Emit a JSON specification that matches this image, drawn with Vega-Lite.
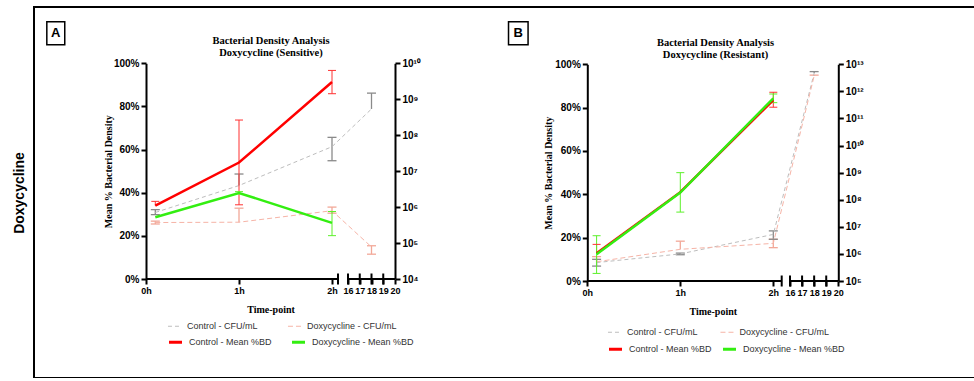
{
 "$schema": "https://vega.github.io/schema/vega-lite/v6.json",
 "width": 945, "height": 371,
 "autosize": {"type": "none"},
 "padding": {"left": 34, "top": 7, "right": 0, "bottom": 0},
 "background": "white",
 "config": {
  "view": {"stroke": "#000", "strokeWidth": 2},
  "axis": {"grid": false, "labelFont": "Liberation Sans", "labelFontWeight": "bold", "labelFontSize": 10, "labelColor": "#000", "domainColor": "#000", "domainWidth": 2, "tickColor": "#000", "tickWidth": 2, "tickSize": 5, "titleFont": "Liberation Serif", "titleFontWeight": "bold", "titleFontSize": 10, "titleColor": "#000", "labelPadding": 2},
  "legend": {"title": null, "orient": "none", "direction": "horizontal", "columns": 2, "symbolType": "stroke", "symbolSize": 170, "labelFont": "Liberation Sans", "labelFontSize": 9, "labelColor": "#333", "labelOffset": 5, "rowPadding": 2}
 },
 "datasets": {
  "A": [
   {"series":"Control - Mean %BD","metric":"BD","t":0.1,"v":0.34,"lo":0.34,"hi":0.36},
   {"series":"Control - Mean %BD","metric":"BD","t":1,"v":0.54,"lo":0.344,"hi":0.737},
   {"series":"Control - Mean %BD","metric":"BD","t":2,"v":0.913,"lo":0.859,"hi":0.967},
   {"series":"Doxycycline - Mean %BD","metric":"BD","t":0.1,"v":0.286,"lo":0.286,"hi":0.286},
   {"series":"Doxycycline - Mean %BD","metric":"BD","t":1,"v":0.399,"lo":0.399,"hi":0.405},
   {"series":"Doxycycline - Mean %BD","metric":"BD","t":2,"v":0.26,"lo":0.201,"hi":0.313},
   {"series":"Control - CFU/mL","metric":"CFU","t":0.1,"v":708000,"lo":617000,"hi":851000},
   {"series":"Control - CFU/mL","metric":"CFU","t":1,"v":3980000,"lo":3980000,"hi":8320000},
   {"series":"Control - CFU/mL","metric":"CFU","t":2,"v":47900000,"lo":19500000,"hi":87100000},
   {"series":"Control - CFU/mL","metric":"CFU","t":18,"v":537000000,"lo":537000000,"hi":1480000000},
   {"series":"Doxycycline - CFU/mL","metric":"CFU","t":0.1,"v":372000,"lo":339000,"hi":407000},
   {"series":"Doxycycline - CFU/mL","metric":"CFU","t":1,"v":380000,"lo":380000,"hi":933000},
   {"series":"Doxycycline - CFU/mL","metric":"CFU","t":2,"v":794000,"lo":676000,"hi":1000000},
   {"series":"Doxycycline - CFU/mL","metric":"CFU","t":18,"v":77600,"lo":49000,"hi":84100}
  ],
  "B": [
   {"series":"Control - Mean %BD","metric":"BD","t":0.1,"v":0.128,"lo":0.128,"hi":0.169},
   {"series":"Control - Mean %BD","metric":"BD","t":1,"v":0.41,"lo":0.41,"hi":0.41},
   {"series":"Control - Mean %BD","metric":"BD","t":2,"v":0.835,"lo":0.802,"hi":0.871},
   {"series":"Doxycycline - Mean %BD","metric":"BD","t":0.1,"v":0.123,"lo":0.035,"hi":0.209},
   {"series":"Doxycycline - Mean %BD","metric":"BD","t":1,"v":0.408,"lo":0.318,"hi":0.5},
   {"series":"Doxycycline - Mean %BD","metric":"BD","t":2,"v":0.843,"lo":0.823,"hi":0.863},
   {"series":"Control - CFU/mL","metric":"CFU","t":0.1,"v":479000,"lo":355000,"hi":631000},
   {"series":"Control - CFU/mL","metric":"CFU","t":1,"v":1000000,"lo":933000,"hi":1070000},
   {"series":"Control - CFU/mL","metric":"CFU","t":2,"v":5250000,"lo":3470000,"hi":7080000},
   {"series":"Control - CFU/mL","metric":"CFU","t":18,"v":4680000000000,"lo":4680000000000,"hi":5370000000000},
   {"series":"Doxycycline - CFU/mL","metric":"CFU","t":0.1,"v":513000,"lo":513000,"hi":794000},
   {"series":"Doxycycline - CFU/mL","metric":"CFU","t":1,"v":1480000,"lo":1480000,"hi":2950000},
   {"series":"Doxycycline - CFU/mL","metric":"CFU","t":2,"v":2450000,"lo":1700000,"hi":3470000},
   {"series":"Doxycycline - CFU/mL","metric":"CFU","t":18,"v":3720000000000,"lo":3720000000000,"hi":3980000000000}
  ]
 },
 "layer": [
  {
   "data": {"values": [{"k": 0}]},
   "mark": {"type": "point", "opacity": 0},
   "encoding": {"y": {"field": "k", "type": "quantitative", "axis": {"orient": "left", "offset": 0, "domain": false, "ticks": false, "labels": false, "title": "Doxycycline", "titleFont": "Liberation Sans", "titleFontSize": 14, "titleFontWeight": "bold", "titlePadding": 8}}}
  },
  {
   "data": {"values": [{"k": 0}]},
   "mark": {"type": "point", "opacity": 0},
   "encoding": {"x": {"field": "k", "type": "quantitative", "scale": {"domain": [0, 1], "range": [112, 361]}, "axis": {"orient": "top", "offset": -50.5, "domain": false, "ticks": false, "labels": false, "title": ["Bacterial Density Analysis", "Doxycycline (Sensitive)"], "titleFontSize": 10.5, "titleLineHeight": 12, "titlePadding": 0}}}
  },
  {
   "data": {"values": [{"k": 0}]},
   "mark": {"type": "point", "opacity": 0},
   "encoding": {"x": {"field": "k", "type": "quantitative", "scale": {"domain": [0, 1], "range": [556, 806]}, "axis": {"orient": "top", "offset": -52.5, "domain": false, "ticks": false, "labels": false, "title": ["Bacterial Density Analysis", "Doxycycline (Resistant)"], "titleFontSize": 10.5, "titleLineHeight": 12, "titlePadding": 0}}}
  },

  {"data": {"name": "A"}, "transform": [{"filter": {"field": "metric", "equal": "CFU"}}, {"filter": "datum.hi > datum.lo"}],
   "mark": {"type": "rule", "strokeWidth": 1.3},
   "encoding": {"x": {"field": "t", "type": "quantitative", "scale": {"domain": [0, 2, 2.2, 16, 20], "range": [112, 298, 304, 314, 361], "nice": false, "zero": false}, "axis": null},
    "y": {"field": "lo", "type": "quantitative", "scale": {"type": "log", "domain": [10000, 10000000000], "range": [272, 56.3], "nice": false}, "axis": null}, "y2": {"field": "hi"},
    "stroke": {"field": "series", "type": "nominal", "scale": {"domain": ["Control - CFU/mL", "Doxycycline - CFU/mL"], "range": ["#8a8a8a", "#f2a898"]}, "legend": null}}},
  {"data": {"name": "A"}, "transform": [{"filter": {"field": "metric", "equal": "CFU"}}, {"filter": "datum.hi > datum.v"}],
   "mark": {"type": "tick", "orient": "horizontal", "size": 9, "thickness": 1.3, "opacity": 1},
   "encoding": {"x": {"field": "t", "type": "quantitative", "scale": {"domain": [0, 2, 2.2, 16, 20], "range": [112, 298, 304, 314, 361], "nice": false, "zero": false}, "axis": null},
    "y": {"field": "hi", "type": "quantitative", "scale": {"type": "log", "domain": [10000, 10000000000], "range": [272, 56.3], "nice": false}, "axis": null},
    "fill": {"field": "series", "type": "nominal", "scale": {"domain": ["Control - CFU/mL", "Doxycycline - CFU/mL"], "range": ["#8a8a8a", "#f2a898"]}, "legend": null}}},
  {"data": {"name": "A"}, "transform": [{"filter": {"field": "metric", "equal": "CFU"}}, {"filter": "datum.lo < datum.v"}],
   "mark": {"type": "tick", "orient": "horizontal", "size": 9, "thickness": 1.3, "opacity": 1},
   "encoding": {"x": {"field": "t", "type": "quantitative", "scale": {"domain": [0, 2, 2.2, 16, 20], "range": [112, 298, 304, 314, 361], "nice": false, "zero": false}, "axis": null},
    "y": {"field": "lo", "type": "quantitative", "scale": {"type": "log", "domain": [10000, 10000000000], "range": [272, 56.3], "nice": false}, "axis": null},
    "fill": {"field": "series", "type": "nominal", "scale": {"domain": ["Control - CFU/mL", "Doxycycline - CFU/mL"], "range": ["#8a8a8a", "#f2a898"]}, "legend": null}}},
  {"data": {"name": "A"}, "transform": [{"filter": {"field": "metric", "equal": "CFU"}}],
   "mark": {"type": "line", "strokeWidth": 1},
   "encoding": {"x": {"field": "t", "type": "quantitative", "scale": {"domain": [0, 2, 2.2, 16, 20], "range": [112, 298, 304, 314, 361], "nice": false, "zero": false}, "axis": null},
    "y": {"field": "v", "type": "quantitative", "scale": {"type": "log", "domain": [10000, 10000000000], "range": [272, 56.3], "nice": false}, "axis": {"orient": "right", "offset": -584, "values": [10000, 100000, 1000000, 10000000, 100000000, 1000000000, 10000000000], "labelExpr": "'10' + ['⁰','¹','²','³','⁴','⁵','⁶','⁷','⁸','⁹','¹⁰','¹¹','¹²','¹³'][round(log(datum.value)/LN10)]", "title": null}},
    "color": {"field": "series", "type": "nominal", "scale": {"domain": ["Control - CFU/mL", "Doxycycline - CFU/mL"], "range": ["#bdbdbd", "#f6b4a7"]}, "legend": {"legendX": 133, "legendY": 311.5, "columnPadding": 27, "symbolStrokeWidth": 1}},
    "strokeDash": {"field": "series", "type": "nominal", "scale": {"domain": ["Control - CFU/mL", "Doxycycline - CFU/mL"], "range": [[4, 3], [5, 3]]}, "legend": {"legendX": 133, "legendY": 311.5, "columnPadding": 27, "symbolStrokeWidth": 1}}}},

  {"data": {"name": "A"}, "transform": [{"filter": {"field": "metric", "equal": "BD"}}, {"filter": "datum.hi > datum.lo"}],
   "mark": {"type": "rule", "strokeWidth": 1},
   "encoding": {"x": {"field": "t", "type": "quantitative", "scale": {"domain": [0, 2, 2.2, 16, 20], "range": [112, 298, 304, 314, 361], "nice": false, "zero": false}, "axis": null},
    "y": {"field": "lo", "type": "quantitative", "scale": {"domain": [0, 1], "range": [272, 56.3], "nice": false, "zero": false}, "axis": null}, "y2": {"field": "hi"},
    "stroke": {"field": "series", "type": "nominal", "scale": {"domain": ["Control - Mean %BD", "Doxycycline - Mean %BD"], "range": ["#ff3030", "#5cf02a"]}, "legend": null}}},
  {"data": {"name": "A"}, "transform": [{"filter": {"field": "metric", "equal": "BD"}}, {"filter": "datum.hi > datum.v"}],
   "mark": {"type": "tick", "orient": "horizontal", "size": 8, "thickness": 1, "opacity": 1},
   "encoding": {"x": {"field": "t", "type": "quantitative", "scale": {"domain": [0, 2, 2.2, 16, 20], "range": [112, 298, 304, 314, 361], "nice": false, "zero": false}, "axis": null},
    "y": {"field": "hi", "type": "quantitative", "scale": {"domain": [0, 1], "range": [272, 56.3], "nice": false, "zero": false}, "axis": null},
    "fill": {"field": "series", "type": "nominal", "scale": {"domain": ["Control - Mean %BD", "Doxycycline - Mean %BD"], "range": ["#ff3030", "#5cf02a"]}, "legend": null}}},
  {"data": {"name": "A"}, "transform": [{"filter": {"field": "metric", "equal": "BD"}}, {"filter": "datum.lo < datum.v"}],
   "mark": {"type": "tick", "orient": "horizontal", "size": 8, "thickness": 1, "opacity": 1},
   "encoding": {"x": {"field": "t", "type": "quantitative", "scale": {"domain": [0, 2, 2.2, 16, 20], "range": [112, 298, 304, 314, 361], "nice": false, "zero": false}, "axis": null},
    "y": {"field": "lo", "type": "quantitative", "scale": {"domain": [0, 1], "range": [272, 56.3], "nice": false, "zero": false}, "axis": null},
    "fill": {"field": "series", "type": "nominal", "scale": {"domain": ["Control - Mean %BD", "Doxycycline - Mean %BD"], "range": ["#ff3030", "#5cf02a"]}, "legend": null}}},
  {"data": {"name": "A"}, "transform": [{"filter": {"field": "metric", "equal": "BD"}}],
   "mark": {"type": "line", "strokeWidth": 2.5},
   "encoding": {"x": {"field": "t", "type": "quantitative", "scale": {"domain": [0, 2, 2.2, 16, 20], "range": [112, 298, 304, 314, 361], "nice": false, "zero": false}, "axis": {"orient": "bottom", "offset": -99, "values": [0, 1, 2, 16, 17, 18, 19, 20], "labelExpr": "datum.value <= 2 ? datum.value + 'h' : '' + datum.value", "labelFontSize": 9, "domain": false, "labelOverlap": false, "labelBound": false, "labelFlush": false, "title": "Time-point", "titlePadding": 9}},
    "y": {"field": "v", "type": "quantitative", "scale": {"domain": [0, 1], "range": [272, 56.3], "nice": false, "zero": false}, "axis": {"orient": "left", "offset": -112, "values": [0, 0.2, 0.4, 0.6, 0.8, 1], "format": ".0%", "title": "Mean % Bacterial Density", "titlePadding": 0}},
    "color": {"field": "series", "type": "nominal", "scale": {"domain": ["Control - Mean %BD", "Doxycycline - Mean %BD"], "range": ["#ff0000", "#33ee11"]}, "legend": {"legendX": 133, "legendY": 326.5, "columnPadding": 13, "symbolStrokeWidth": 3}}}},
  {"data": {"values": [{"from": 0, "to": 2.2}, {"from": 16, "to": 20}]},
   "mark": {"type": "rule", "strokeWidth": 2, "color": "#000"},
   "encoding": {"x": {"field": "from", "type": "quantitative", "scale": {"domain": [0, 2, 2.2, 16, 20], "range": [112, 298, 304, 314, 361], "nice": false, "zero": false}, "axis": null}, "x2": {"field": "to"}, "y": {"datum": 0, "type": "quantitative", "scale": {"domain": [0, 1], "range": [272, 56.3], "nice": false, "zero": false}, "axis": null}}},
  {"data": {"values": [{"brk": 2.2}, {"brk": 16}, {"brk": 17}, {"brk": 18}, {"brk": 19}]},
   "mark": {"type": "tick", "orient": "vertical", "size": 11, "thickness": 2, "color": "#000", "opacity": 1},
   "encoding": {"x": {"field": "brk", "type": "quantitative", "scale": {"domain": [0, 2, 2.2, 16, 20], "range": [112, 298, 304, 314, 361], "nice": false, "zero": false}, "axis": null}, "y": {"datum": 0, "type": "quantitative", "scale": {"domain": [0, 1], "range": [272, 56.3], "nice": false, "zero": false}, "axis": null}}},
  {"data": {"values": [{"lab": "A"}]},
   "mark": {"type": "point", "shape": "M-0.78,-1L0.78,-1L0.78,1L-0.78,1Z", "size": 529, "filled": false, "stroke": "#000", "strokeWidth": 1.5, "opacity": 1},
   "encoding": {"x": {"datum": -0.97, "type": "quantitative", "scale": {"domain": [0, 2, 2.2, 16, 20], "range": [112, 298, 304, 314, 361], "nice": false, "zero": false}, "axis": null}, "y": {"datum": 1.139, "type": "quantitative", "scale": {"domain": [0, 1], "range": [272, 56.3], "nice": false, "zero": false}, "axis": null}}},
  {"data": {"values": [{"lab": "A"}]},
   "mark": {"type": "text", "font": "Liberation Sans", "fontWeight": "bold", "fontSize": 13, "color": "#000", "align": "center", "baseline": "middle"},
   "encoding": {"x": {"datum": -0.97, "type": "quantitative", "scale": {"domain": [0, 2, 2.2, 16, 20], "range": [112, 298, 304, 314, 361], "nice": false, "zero": false}, "axis": null}, "y": {"datum": 1.139, "type": "quantitative", "scale": {"domain": [0, 1], "range": [272, 56.3], "nice": false, "zero": false}, "axis": null}, "text": {"field": "lab"}}},

  {"data": {"name": "B"}, "transform": [{"filter": {"field": "metric", "equal": "CFU"}}, {"filter": "datum.hi > datum.lo"}],
   "mark": {"type": "rule", "strokeWidth": 1.3},
   "encoding": {"x": {"field": "t", "type": "quantitative", "scale": {"domain": [0, 2, 2.2, 16, 20], "range": [553.3, 739.3, 747.7, 756, 804.3], "nice": false, "zero": false}, "axis": null},
    "y": {"field": "lo", "type": "quantitative", "scale": {"type": "log", "domain": [100000, 10000000000000], "range": [274, 57.3], "nice": false}, "axis": null}, "y2": {"field": "hi"},
    "stroke": {"field": "series", "type": "nominal", "scale": {"domain": ["Control - CFU/mL", "Doxycycline - CFU/mL"], "range": ["#8a8a8a", "#f2a898"]}, "legend": null}}},
  {"data": {"name": "B"}, "transform": [{"filter": {"field": "metric", "equal": "CFU"}}, {"filter": "datum.hi > datum.v"}],
   "mark": {"type": "tick", "orient": "horizontal", "size": 9, "thickness": 1.3, "opacity": 1},
   "encoding": {"x": {"field": "t", "type": "quantitative", "scale": {"domain": [0, 2, 2.2, 16, 20], "range": [553.3, 739.3, 747.7, 756, 804.3], "nice": false, "zero": false}, "axis": null},
    "y": {"field": "hi", "type": "quantitative", "scale": {"type": "log", "domain": [100000, 10000000000000], "range": [274, 57.3], "nice": false}, "axis": null},
    "fill": {"field": "series", "type": "nominal", "scale": {"domain": ["Control - CFU/mL", "Doxycycline - CFU/mL"], "range": ["#8a8a8a", "#f2a898"]}, "legend": null}}},
  {"data": {"name": "B"}, "transform": [{"filter": {"field": "metric", "equal": "CFU"}}, {"filter": "datum.lo < datum.v"}],
   "mark": {"type": "tick", "orient": "horizontal", "size": 9, "thickness": 1.3, "opacity": 1},
   "encoding": {"x": {"field": "t", "type": "quantitative", "scale": {"domain": [0, 2, 2.2, 16, 20], "range": [553.3, 739.3, 747.7, 756, 804.3], "nice": false, "zero": false}, "axis": null},
    "y": {"field": "lo", "type": "quantitative", "scale": {"type": "log", "domain": [100000, 10000000000000], "range": [274, 57.3], "nice": false}, "axis": null},
    "fill": {"field": "series", "type": "nominal", "scale": {"domain": ["Control - CFU/mL", "Doxycycline - CFU/mL"], "range": ["#8a8a8a", "#f2a898"]}, "legend": null}}},
  {"data": {"name": "B"}, "transform": [{"filter": {"field": "metric", "equal": "CFU"}}],
   "mark": {"type": "line", "strokeWidth": 1},
   "encoding": {"x": {"field": "t", "type": "quantitative", "scale": {"domain": [0, 2, 2.2, 16, 20], "range": [553.3, 739.3, 747.7, 756, 804.3], "nice": false, "zero": false}, "axis": null},
    "y": {"field": "v", "type": "quantitative", "scale": {"type": "log", "domain": [100000, 10000000000000], "range": [274, 57.3], "nice": false}, "axis": {"orient": "right", "offset": -140.7, "values": [100000, 1000000, 10000000, 100000000, 1000000000, 10000000000, 100000000000, 1000000000000, 10000000000000], "labelExpr": "'10' + ['⁰','¹','²','³','⁴','⁵','⁶','⁷','⁸','⁹','¹⁰','¹¹','¹²','¹³'][round(log(datum.value)/LN10)]", "title": null}},
    "color": {"field": "series", "type": "nominal", "scale": {"domain": ["Control - CFU/mL", "Doxycycline - CFU/mL"], "range": ["#bdbdbd", "#f6b4a7"]}, "legend": {"legendX": 573, "legendY": 317.5, "columnPadding": 19.5, "symbolStrokeWidth": 1}},
    "strokeDash": {"field": "series", "type": "nominal", "scale": {"domain": ["Control - CFU/mL", "Doxycycline - CFU/mL"], "range": [[4, 3], [5, 3]]}, "legend": {"legendX": 573, "legendY": 317.5, "columnPadding": 19.5, "symbolStrokeWidth": 1}}}},

  {"data": {"name": "B"}, "transform": [{"filter": {"field": "metric", "equal": "BD"}}, {"filter": "datum.hi > datum.lo"}],
   "mark": {"type": "rule", "strokeWidth": 1},
   "encoding": {"x": {"field": "t", "type": "quantitative", "scale": {"domain": [0, 2, 2.2, 16, 20], "range": [553.3, 739.3, 747.7, 756, 804.3], "nice": false, "zero": false}, "axis": null},
    "y": {"field": "lo", "type": "quantitative", "scale": {"domain": [0, 1], "range": [274, 57.3], "nice": false, "zero": false}, "axis": null}, "y2": {"field": "hi"},
    "stroke": {"field": "series", "type": "nominal", "scale": {"domain": ["Control - Mean %BD", "Doxycycline - Mean %BD"], "range": ["#ff3030", "#5cf02a"]}, "legend": null}}},
  {"data": {"name": "B"}, "transform": [{"filter": {"field": "metric", "equal": "BD"}}, {"filter": "datum.hi > datum.v"}],
   "mark": {"type": "tick", "orient": "horizontal", "size": 8, "thickness": 1, "opacity": 1},
   "encoding": {"x": {"field": "t", "type": "quantitative", "scale": {"domain": [0, 2, 2.2, 16, 20], "range": [553.3, 739.3, 747.7, 756, 804.3], "nice": false, "zero": false}, "axis": null},
    "y": {"field": "hi", "type": "quantitative", "scale": {"domain": [0, 1], "range": [274, 57.3], "nice": false, "zero": false}, "axis": null},
    "fill": {"field": "series", "type": "nominal", "scale": {"domain": ["Control - Mean %BD", "Doxycycline - Mean %BD"], "range": ["#ff3030", "#5cf02a"]}, "legend": null}}},
  {"data": {"name": "B"}, "transform": [{"filter": {"field": "metric", "equal": "BD"}}, {"filter": "datum.lo < datum.v"}],
   "mark": {"type": "tick", "orient": "horizontal", "size": 8, "thickness": 1, "opacity": 1},
   "encoding": {"x": {"field": "t", "type": "quantitative", "scale": {"domain": [0, 2, 2.2, 16, 20], "range": [553.3, 739.3, 747.7, 756, 804.3], "nice": false, "zero": false}, "axis": null},
    "y": {"field": "lo", "type": "quantitative", "scale": {"domain": [0, 1], "range": [274, 57.3], "nice": false, "zero": false}, "axis": null},
    "fill": {"field": "series", "type": "nominal", "scale": {"domain": ["Control - Mean %BD", "Doxycycline - Mean %BD"], "range": ["#ff3030", "#5cf02a"]}, "legend": null}}},
  {"data": {"name": "B"}, "transform": [{"filter": {"field": "metric", "equal": "BD"}}],
   "mark": {"type": "line", "strokeWidth": 2.5},
   "encoding": {"x": {"field": "t", "type": "quantitative", "scale": {"domain": [0, 2, 2.2, 16, 20], "range": [553.3, 739.3, 747.7, 756, 804.3], "nice": false, "zero": false}, "axis": {"orient": "bottom", "offset": -97, "values": [0, 1, 2, 16, 17, 18, 19, 20], "labelExpr": "datum.value <= 2 ? datum.value + 'h' : '' + datum.value", "labelFontSize": 9, "domain": false, "labelOverlap": false, "labelBound": false, "labelFlush": false, "title": "Time-point", "titlePadding": 9}},
    "y": {"field": "v", "type": "quantitative", "scale": {"domain": [0, 1], "range": [274, 57.3], "nice": false, "zero": false}, "axis": {"orient": "left", "offset": -553.3, "values": [0, 0.2, 0.4, 0.6, 0.8, 1], "format": ".0%", "title": "Mean % Bacterial Density", "titlePadding": 1}},
    "color": {"field": "series", "type": "nominal", "scale": {"domain": ["Control - Mean %BD", "Doxycycline - Mean %BD"], "range": ["#ff0000", "#33ee11"]}, "legend": {"legendX": 573, "legendY": 333.5, "columnPadding": 4, "symbolStrokeWidth": 3}}}},
  {"data": {"values": [{"from": 0, "to": 2.2}, {"from": 16, "to": 20}]},
   "mark": {"type": "rule", "strokeWidth": 2, "color": "#000"},
   "encoding": {"x": {"field": "from", "type": "quantitative", "scale": {"domain": [0, 2, 2.2, 16, 20], "range": [553.3, 739.3, 747.7, 756, 804.3], "nice": false, "zero": false}, "axis": null}, "x2": {"field": "to"}, "y": {"datum": 0, "type": "quantitative", "scale": {"domain": [0, 1], "range": [274, 57.3], "nice": false, "zero": false}, "axis": null}}},
  {"data": {"values": [{"brk": 2.2}, {"brk": 16}, {"brk": 17}, {"brk": 18}, {"brk": 19}]},
   "mark": {"type": "tick", "orient": "vertical", "size": 11, "thickness": 2, "color": "#000", "opacity": 1},
   "encoding": {"x": {"field": "brk", "type": "quantitative", "scale": {"domain": [0, 2, 2.2, 16, 20], "range": [553.3, 739.3, 747.7, 756, 804.3], "nice": false, "zero": false}, "axis": null}, "y": {"datum": 0, "type": "quantitative", "scale": {"domain": [0, 1], "range": [274, 57.3], "nice": false, "zero": false}, "axis": null}}},
  {"data": {"values": [{"lab": "B"}]},
   "mark": {"type": "point", "shape": "M-0.85,-1L0.85,-1L0.85,1L-0.85,1Z", "size": 529, "filled": false, "stroke": "#000", "strokeWidth": 1.5, "opacity": 1},
   "encoding": {"x": {"datum": -0.742, "type": "quantitative", "scale": {"domain": [0, 2, 2.2, 16, 20], "range": [553.3, 739.3, 747.7, 756, 804.3], "nice": false, "zero": false}, "axis": null}, "y": {"datum": 1.143, "type": "quantitative", "scale": {"domain": [0, 1], "range": [274, 57.3], "nice": false, "zero": false}, "axis": null}}},
  {"data": {"values": [{"lab": "B"}]},
   "mark": {"type": "text", "font": "Liberation Sans", "fontWeight": "bold", "fontSize": 13, "color": "#000", "align": "center", "baseline": "middle"},
   "encoding": {"x": {"datum": -0.742, "type": "quantitative", "scale": {"domain": [0, 2, 2.2, 16, 20], "range": [553.3, 739.3, 747.7, 756, 804.3], "nice": false, "zero": false}, "axis": null}, "y": {"datum": 1.143, "type": "quantitative", "scale": {"domain": [0, 1], "range": [274, 57.3], "nice": false, "zero": false}, "axis": null}, "text": {"field": "lab"}}}
 ],
 "resolve": {
  "scale": {"x": "independent", "y": "independent", "color": "independent", "stroke": "independent", "fill": "independent", "strokeDash": "independent"},
  "axis": {"x": "independent", "y": "independent"},
  "legend": {"color": "independent", "strokeDash": "independent"}
 }
}
